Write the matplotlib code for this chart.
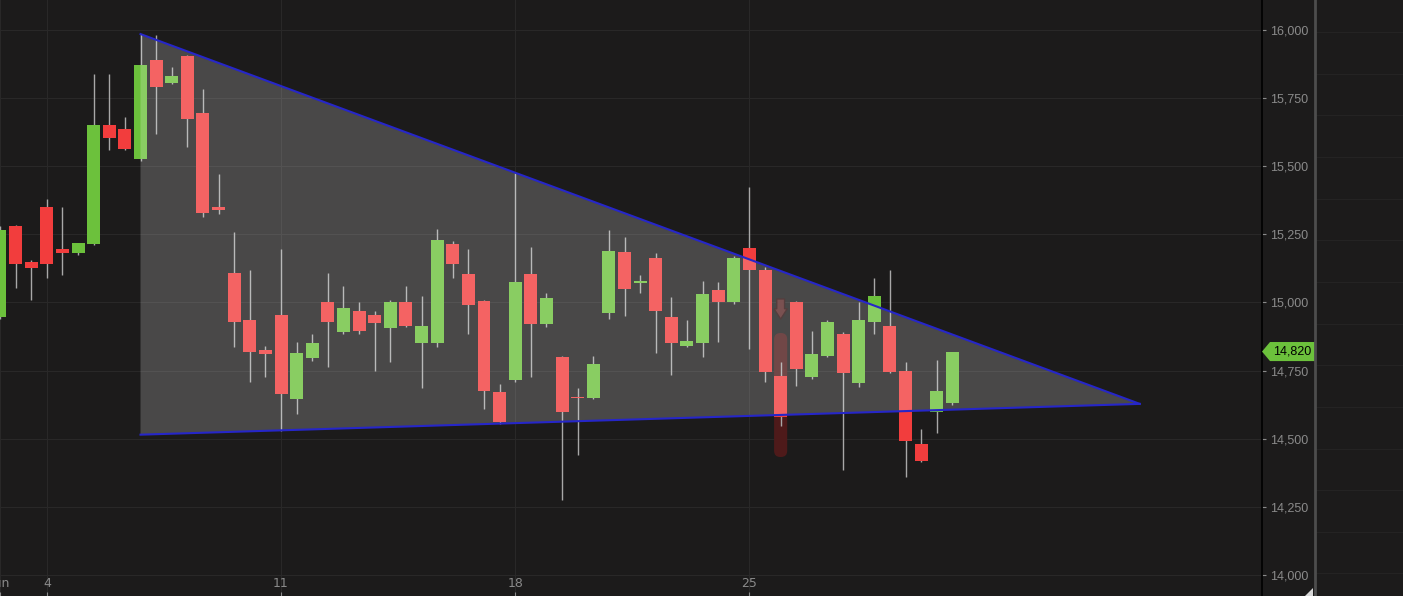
import numpy as np
import matplotlib
matplotlib.use("Agg")
import matplotlib.pyplot as plt
from matplotlib.patches import Polygon, FancyBboxPatch
from matplotlib.transforms import blended_transform_factory, IdentityTransform

# 8h candles, 3 per trading day (June 2018)
opens = [14945, 15280, 15150, 15350, 15195, 15180, 15215, 15650, 15635, 15525,
         15890, 15805, 15905, 15695, 15350, 15110, 14935, 14825, 14955, 14645,
         14795, 15000, 14890, 14970, 14955, 14905, 15000, 14850, 14850, 15215,
         15105, 15005, 14670, 14715, 15105, 14920, 14800, 14655, 14650, 14960,
         15185, 15070, 15165, 14945, 14840, 14850, 15045, 15000, 15200, 15120,
         14730, 15000, 14725, 14805, 14885, 14705, 14930, 14915, 14750, 14480,
         14600, 14630]
highs = [15280, 15285, 15155, 15380, 15350, 15220, 15840, 15840, 15680, 15985,
         15980, 15865, 15910, 15785, 15470, 15260, 15120, 14840, 15195, 14855,
         14885, 15110, 15060, 15000, 14970, 15010, 15060, 15025, 15270, 15225,
         15195, 15010, 14700, 15475, 15205, 15035, 14805, 14685, 14805, 15265,
         15240, 15100, 15180, 15020, 14935, 15080, 15075, 15170, 15425, 15130,
         14780, 15005, 14895, 14935, 14890, 15000, 15090, 15120, 14780, 14535,
         14790, 14820]
lows = [14940, 15055, 15010, 15090, 15100, 15175, 15210, 15560, 15560, 15520,
        15620, 15800, 15570, 15315, 15325, 14835, 14710, 14725, 14530, 14590,
        14785, 14765, 14885, 14885, 14750, 14780, 14910, 14685, 14835, 15090,
        14885, 14610, 14555, 14710, 14725, 14910, 14275, 14440, 14645, 14940,
        14950, 15035, 14815, 14735, 14835, 14800, 14855, 14995, 14830, 14710,
        14545, 14695, 14720, 14800, 14385, 14690, 14885, 14740, 14360, 14415,
        14520, 14625]
closes = [15265, 15140, 15125, 15140, 15180, 15220, 15650, 15605, 15565, 15870,
          15790, 15830, 15675, 15330, 15340, 14930, 14820, 14810, 14665, 14815,
          14850, 14930, 14980, 14895, 14925, 15000, 14915, 14915, 15230, 15140,
          14990, 14675, 14560, 15075, 14920, 15015, 14600, 14650, 14775, 15190,
          15050, 15080, 14970, 14850, 14860, 15030, 15000, 15165, 15120, 14745,
          14580, 14755, 14810, 14930, 14740, 14935, 15025, 14745, 14490, 14420,
          14675, 14820]

day_ticks = [0, 3, 18, 33, 48]
day_labels = ["Jun", "4", "11", "18", "25"]
price_ticks = [14000, 14250, 14500, 14750, 15000, 15250, 15500, 15750, 16000]

# symmetrical triangle drawn on the chart
tri_x = [9, 9, 73]
tri_y = [15985, 14515, 14628]

# sell signal on bar 50
signal_bar = 50
signal_zone = (14433, 14888)
signal_arrow = (15013, 14939)
last_price = 14820

BG = "#1c1b1b"
UP = "#6cc13c"
DOWN = "#f23d3d"
GRID = "#292828"
LABEL = "#8a8a8a"

fig = plt.figure(figsize=(14.03, 5.96), dpi=100, facecolor=BG)
ax = fig.add_axes([0, 0, 1262 / 1403, 1], facecolor=BG)

x = np.arange(len(opens))
o = np.array(opens)
c = np.array(closes)
up = c >= o
colors = np.where(up, UP, DOWN)

ax.vlines(x, lows, highs, color="#a8a8a8", lw=1, zorder=2)
ax.bar(x, np.abs(c - o), bottom=np.minimum(o, c), width=0.83, color=colors,
       lw=0, zorder=3)

# signal zone + arrow
zone = FancyBboxPatch((signal_bar - 0.42, signal_zone[0]), 0.84,
                      signal_zone[1] - signal_zone[0],
                      boxstyle="round,pad=0,rounding_size=0.4",
                      mutation_aspect=57, fc="#4e1a1a", ec="none", zorder=1.5)
ax.add_patch(zone)
ax.arrow(signal_bar, signal_arrow[0], 0, signal_arrow[1] - signal_arrow[0],
         width=0.5, head_width=0.85, head_length=38, length_includes_head=True,
         fc="#5a2626", ec="#2a0e0e", lw=1.0, zorder=3.5)

# triangle overlay
ax.add_patch(Polygon(list(zip(tri_x, tri_y)), closed=True, fc="white",
                     alpha=0.2, ec="none", zorder=4))
ax.plot([tri_x[0], tri_x[2]], [tri_y[0], tri_y[2]], color="#2626c8", lw=1.5,
        zorder=5)
ax.plot([tri_x[1], tri_x[2]], [tri_y[1], tri_y[2]], color="#2626c8", lw=1.5,
        zorder=5)

ax.set_xlim(0.137, 80.83)
ax.set_ylim(13923, 16110)

ax.set_yticks(price_ticks)
ax.set_yticklabels([f"{v:,}" for v in price_ticks])
ax.yaxis.tick_right()
ax.tick_params(axis="y", colors=LABEL, labelcolor=LABEL, labelsize=9,
               length=3, pad=3, labelfontfamily="Liberation Sans")
ax.set_xticks(day_ticks)
ax.set_xticklabels(day_labels)
ax.tick_params(axis="x", colors=LABEL, labelcolor=LABEL, labelsize=9,
               direction="in", length=3, pad=-14)
for lbl in ax.get_xticklabels():
    lbl.set_family(["Liberation Sans Narrow", "DejaVu Sans"])
ax.grid(True, color=GRID, lw=0.8, zorder=0)
ax.set_axisbelow(True)
for side in ["top", "left", "bottom"]:
    ax.spines[side].set_visible(False)
ax.spines["right"].set_color("black")
ax.spines["right"].set_linewidth(1.2)

# last price tag
tr = blended_transform_factory(ax.transAxes, ax.transData)
x0, x1, xt = 1262 / 1262, 1315 / 1262, 1270 / 1262
h = 35
tag = Polygon([(x0, last_price), (xt, last_price + h), (x1, last_price + h),
               (x1, last_price - h), (xt, last_price - h)], closed=True,
              transform=tr, fc=UP, ec="none", clip_on=False, zorder=6)
ax.add_patch(tag)
ax.text(1292 / 1262, last_price, f"{last_price:,}", transform=tr, ha="center",
        va="center", fontsize=9, color="black", family="Liberation Sans",
        zorder=7, clip_on=False)

# empty side pane
ax2 = fig.add_axes([1315 / 1403, 0, 88 / 1403, 1], facecolor=BG)
ax2.set_xlim(0, 1)
ax2.set_ylim(596, 0)
ax2.set_yticks(np.arange(32, 596, 41.65))
ax2.set_xticks([])
ax2.tick_params(axis="y", length=0, labelleft=False)
ax2.grid(True, axis="y", color="#242323", lw=0.8)
for side in ["top", "right", "bottom"]:
    ax2.spines[side].set_visible(False)
ax2.spines["left"].set_color("#4d4d4d")
ax2.spines["left"].set_linewidth(2)

# resize grip
fig.add_artist(Polygon([(1313, 0), (1313, 8), (1305, 0)], closed=True,
                       transform=IdentityTransform(), fc="#d8d8d8", ec="none"))

fig.savefig("out.png", dpi=100, facecolor=BG)
